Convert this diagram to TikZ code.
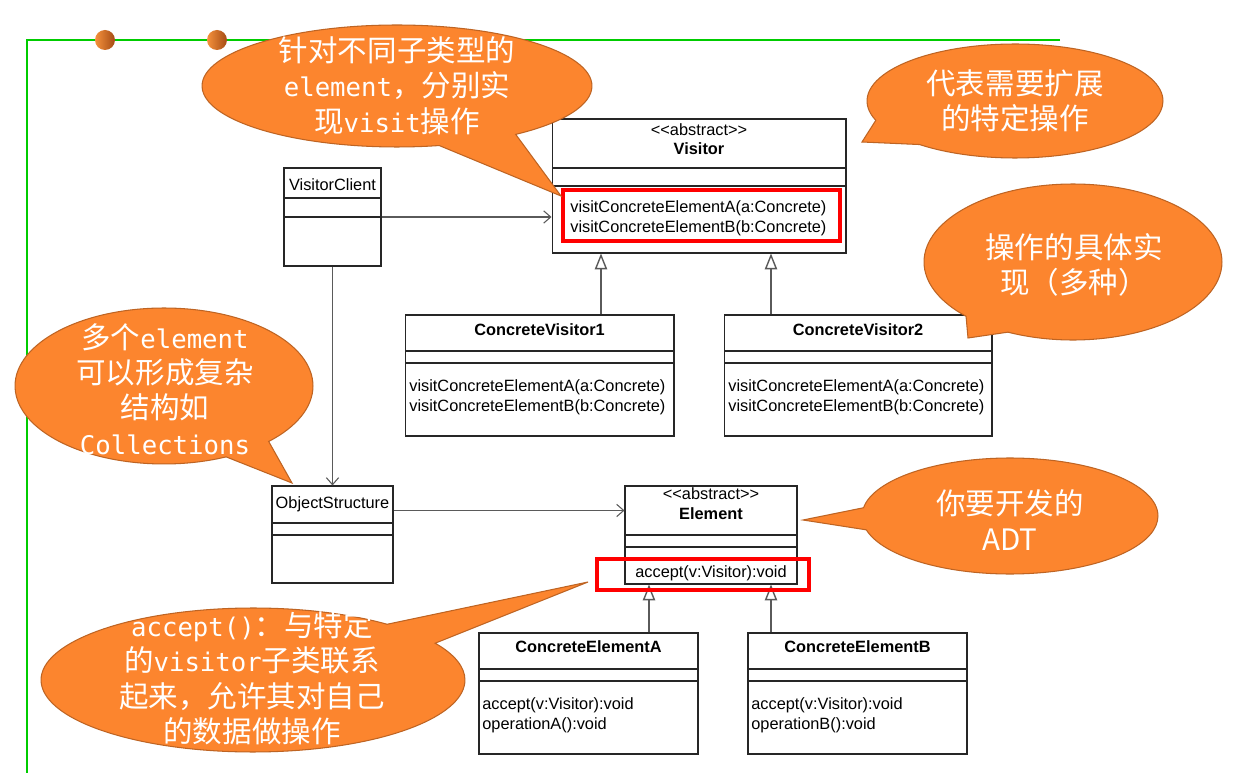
\documentclass[tikz,border=0pt]{standalone}
\usepackage{fontspec}
\newfontfamily\uml{Liberation Sans}
\newfontfamily\cjk{Noto Sans CJK SC}
\newfontfamily\mono[Scale=0.87]{DejaVu Sans Mono}
\usetikzlibrary{shapes.callouts,arrows.meta,calc}
\definecolor{bubblefill}{RGB}{252,133,46}
\definecolor{bubbleline}{RGB}{190,100,35}
\definecolor{framegreen}{RGB}{0,204,0}
\definecolor{dotlight}{RGB}{245,145,60}
\definecolor{dotdark}{RGB}{165,75,20}
\definecolor{connector}{RGB}{90,90,90}
\tikzset{
  cls/.style={draw=black!85, line width=0.6pt, inner sep=0pt},
  umltext/.style={inner sep=0pt, font=\uml\fontsize{9.3}{11.1}\selectfont},
  umltitle/.style={umltext, font=\uml\fontsize{9.3}{11.1}\selectfont\bfseries},
  umlops/.style={umltext, anchor=west, align=left},
  assoc/.style={draw=connector, line width=0.6pt, -{Straight Barb[length=4pt,width=7pt]}},
  gen/.style={draw=connector, line width=0.8pt, -{Triangle[open,fill=white,length=9pt,width=7pt]}},
  redbox/.style={draw=red, line width=2.3pt},
  bubble/.style={ellipse callout, draw=bubbleline, fill=bubblefill, line width=0.6pt,
    inner sep=0pt, callout pointer arc=#1},
  bubbletext/.style={text=white, align=center, inner sep=0pt,
    font=\cjk\fontsize{16.8}{20.2}\selectfont}
}
\begin{document}
\begin{tikzpicture}[x=0.02cm, y=-0.02cm]
\fill[white] (0,0) rectangle (1242,773);
\useasboundingbox (0,0) rectangle (1242,773);
% slide frame
\draw[framegreen, line width=0.9pt] (1060,40) -- (27,40) -- (27,773);
\shade[left color=dotlight, right color=dotdark] (105,40) circle (0.2cm);
\shade[left color=dotlight, right color=dotdark] (217,40) circle (0.2cm);

% classes
\node[cls, minimum width=1.94cm, minimum height=1.96cm] (client) at (332.5,217) {};
\draw[cls] (284,198) -- (381,198) (284,217) -- (381,217);
\node[umltext] (clientname) at (332.5,185) {VisitorClient};

\node[cls, minimum width=5.88cm, minimum height=2.68cm] (visitor) at (699,186) {};
\draw[cls] (552,168) -- (846,168) (552,186) -- (846,186);
\node[umltext] (visitorst) at (699,130) {<<abstract>>};
\node[umltitle] (visitorname) at (699,149) {Visitor};
\node[umlops] (visitorops) at (570,218.5) {visitConcreteElementA(a:Concrete)\\visitConcreteElementB(b:Concrete)};

\node[cls, minimum width=5.38cm, minimum height=2.42cm] (cv1) at (539.5,375.5) {};
\draw[cls] (405,351) -- (674,351) (405,363) -- (674,363);
\node[umltitle] (cv1name) at (539.5,330) {ConcreteVisitor1};
\node[umlops] (cv1ops) at (409,397.5) {visitConcreteElementA(a:Concrete)\\visitConcreteElementB(b:Concrete)};

\node[cls, minimum width=5.36cm, minimum height=2.42cm] (cv2) at (858,375.5) {};
\draw[cls] (724,351) -- (992,351) (724,363) -- (992,363);
\node[umltitle] (cv2name) at (858,330) {ConcreteVisitor2};
\node[umlops] (cv2ops) at (728,397.5) {visitConcreteElementA(a:Concrete)\\visitConcreteElementB(b:Concrete)};

\node[cls, minimum width=2.42cm, minimum height=1.94cm] (objs) at (332.5,534.5) {};
\draw[cls] (272,523) -- (393,523) (272,535) -- (393,535);
\node[umltext] (objsname) at (332.5,504) {ObjectStructure};

\node[cls, minimum width=3.44cm, minimum height=1.96cm] (elem) at (711,535) {};
\draw[cls] (625,535) -- (797,535) (625,547) -- (797,547);
\node[umltext] (elemst) at (711,494) {<<abstract>>};
\node[umltitle] (elemname) at (711,514) {Element};
\node[umltext] (elemops) at (711,573) {accept(v:Visitor):void};

\node[cls, minimum width=4.38cm, minimum height=2.42cm] (cea) at (588.5,693.5) {};
\draw[cls] (479,669) -- (698,669) (479,681) -- (698,681);
\node[umltitle] (ceaname) at (588.5,647) {ConcreteElementA};
\node[umlops] (ceaops) at (482,715.5) {accept(v:Visitor):void\\operationA():void};

\node[cls, minimum width=4.38cm, minimum height=2.42cm] (ceb) at (857.5,693.5) {};
\draw[cls] (748,669) -- (967,669) (748,681) -- (967,681);
\node[umltitle] (cebname) at (857.5,647) {ConcreteElementB};
\node[umlops] (cebops) at (751,715.5) {accept(v:Visitor):void\\operationB():void};

% connectors
\draw[assoc] (client.east) -- (client.east -| visitor.west);
\draw[assoc] (client.south) -- (objs.north);
\draw[assoc] ($(objs.north east)+(0,25)$) coordinate (osout) -- (osout -| elem.west);
\draw[gen] ($(cv1.north)+(61.5,0)$) coordinate (g1) -- (g1 |- visitor.south);
\draw[gen] ($(cv2.north)+(-87,0)$) coordinate (g2) -- (g2 |- visitor.south);
\draw[gen] ($(cea.north)+(60.5,0)$) coordinate (g3) -- (g3 |- elem.south);
\draw[gen] ($(ceb.north)+(-86.5,0)$) coordinate (g4) -- (g4 |- elem.south);

% highlights
\draw[redbox] (563,190) rectangle (840,241);
\draw[redbox] (597,559) rectangle (809,590);

% callouts
\node[bubble=25, minimum width=7.8cm, minimum height=2.44cm,
  callout absolute pointer={(561,196)}] (c1) at (397,86) {};
\node[bubbletext] (c1text) at (397,85.5) {针对不同子类型的\\{\mono element}，分别实\\现{\mono visit}操作};

\node[bubble=30, minimum width=5.92cm, minimum height=2.28cm,
  callout absolute pointer={(862,142)}] (c2) at (1015,101) {};
\node[bubbletext] (c2text) at (1015,101) {代表需要扩展\\的特定操作};

\node[bubble=20, minimum width=5.96cm, minimum height=3.12cm,
  callout absolute pointer={(968,338)}] (c3) at (1073,262) {};
\node[bubbletext] (c3text) at (1074,265) {操作的具体实\\现（多种）};

\node[bubble=20, minimum width=5.96cm, minimum height=3.12cm,
  callout absolute pointer={(292,483)}] (c4) at (164,386) {};
\node[bubbletext] (c4text) at (165,389) {多个{\mono element}\\可以形成复杂\\结构如\\{\mono Collections}};

\node[bubble=22, minimum width=5.92cm, minimum height=2.32cm,
  callout absolute pointer={(803,520)}] (c5) at (1010,516) {};
\node[bubbletext] (c5text) at (1010,520) {你要开发的\\ADT};

\node[bubble=20, minimum width=8.48cm, minimum height=2.88cm,
  callout absolute pointer={(588,582)}] (c6) at (253,680) {};
\node[bubbletext] (c6text) at (252,678) {{\mono accept()}：与特定\\的{\mono visitor}子类联系\\起来，允许其对自己\\的数据做操作};
\end{tikzpicture}
\end{document}
